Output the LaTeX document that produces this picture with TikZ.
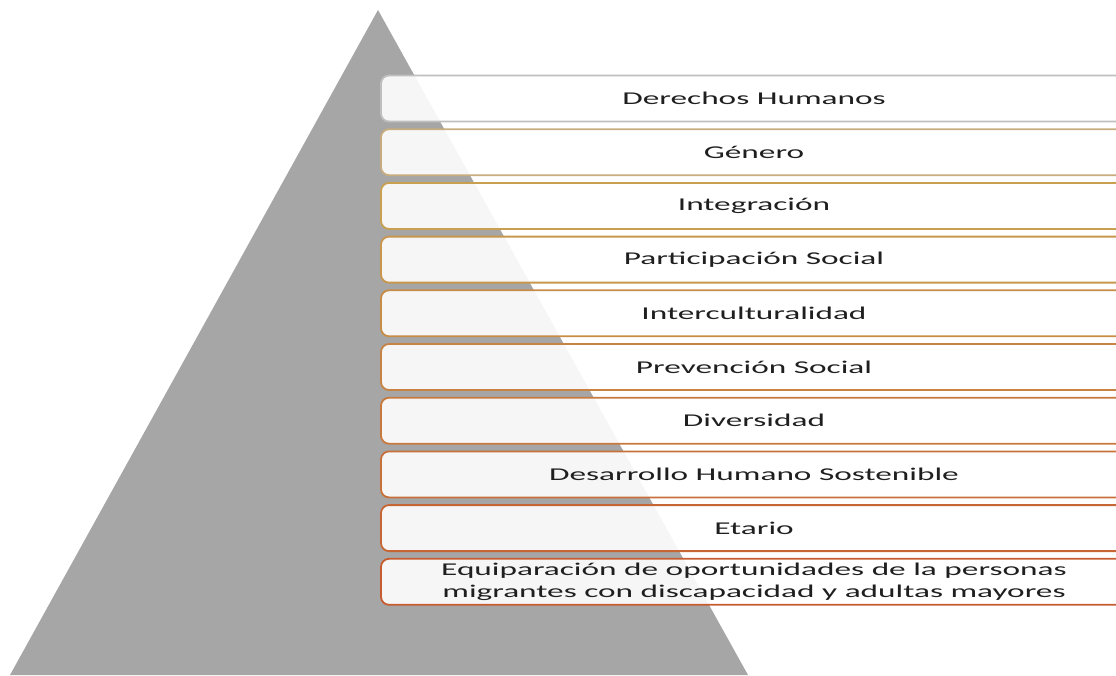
\documentclass[tikz,border=0pt]{standalone}
\usepackage{fontspec}
\setmainfont[FakeStretch=1.85]{Carlito}
\usetikzlibrary{positioning}
\definecolor{pyr}{RGB}{166,166,166}
\definecolor{rimgrey}{RGB}{191,191,191}
\definecolor{rimtan}{RGB}{200,172,125}
\definecolor{rimgold}{RGB}{200,160,80}
\definecolor{rimorange}{RGB}{198,92,48}

\begin{document}
\begin{tikzpicture}[
            x=1pt, y=-1pt,
            layer_box/.style={
                draw=#1, line width=1.8pt, rounded corners=8pt,
                fill=white, fill opacity=0.9, text opacity=1,
                minimum width=746pt, minimum height=46pt, inner sep=0pt,
                align=center, text=black!88,
                font=\fontsize{18}{22}\selectfont
            }
        ]
        \useasboundingbox (0,0) rectangle (1116,675);
        \clip (0,0) rectangle (1116,675);

        % Pyramid
        \fill[pyr] (378,10) coordinate (apex) -- (10,675) coordinate (baseL)
            -- (748,675) coordinate (baseR) -- cycle;

        % Layers
        \foreach \lbl [count=\i] in {Derechos Humanos, Género, Integración,
            Participación Social, Interculturalidad, Prevención Social,
            Diversidad, Desarrollo Humano Sostenible, Etario,
            {Equiparación de oportunidades de la personas\\migrantes con discapacidad y adultas mayores}} {
            \pgfmathtruncatemacro\p{max(0,(\i-3)*100/7)}
            \ifnum\i=1 \colorlet{rim}{rimgrey}\else
            \ifnum\i=2 \colorlet{rim}{rimtan}\else
            \colorlet{rim}{rimorange!\p!rimgold}\fi\fi
            \node[layer_box=rim] (layer\i) at (754,{98.5+53.7*(\i-1)}) {\lbl};
        }
\end{tikzpicture}
\end{document}
